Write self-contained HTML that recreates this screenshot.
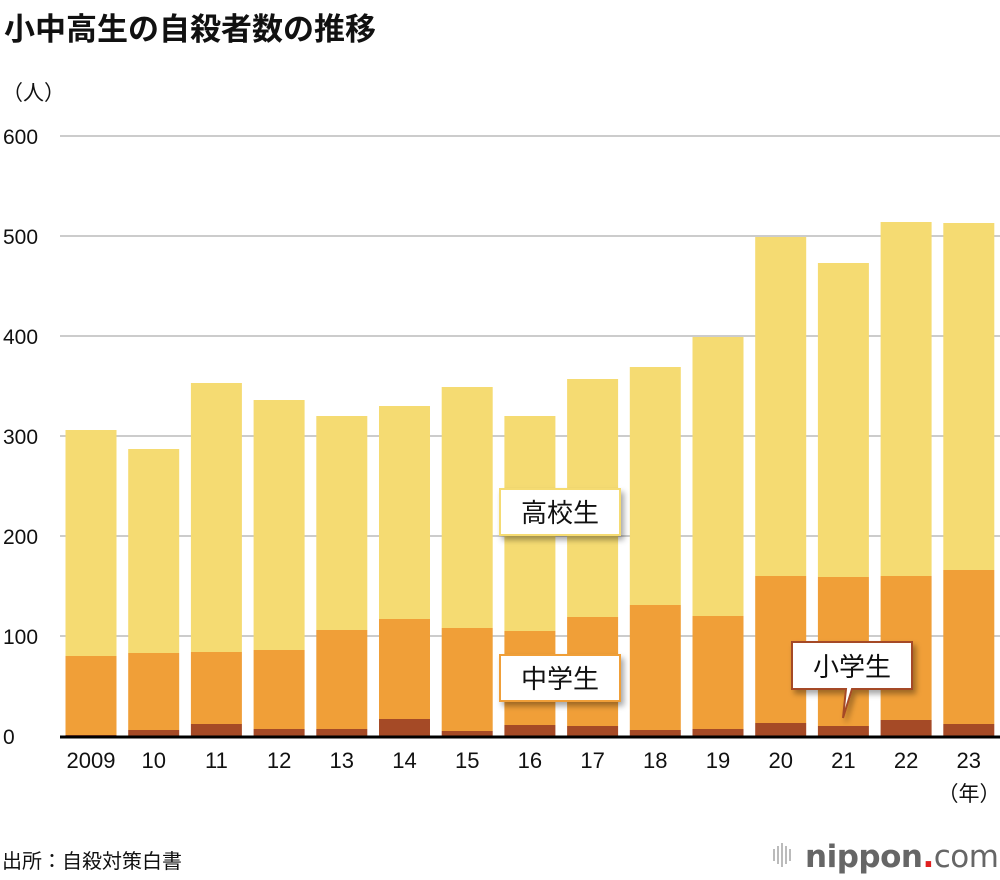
<!DOCTYPE html>
<html><head><meta charset="utf-8"><style>
body{margin:0;background:#fff;width:1000px;height:880px;overflow:hidden;font-family:"Liberation Sans","Noto Sans CJK JP",sans-serif}
svg{position:absolute;left:0;top:0}
</style></head><body>
<svg width="1000" height="880">
<defs><filter id="sh" x="-20%" y="-20%" width="150%" height="160%"><feDropShadow dx="3" dy="4" stdDeviation="3" flood-color="#000" flood-opacity="0.35"/></filter></defs>
<text x="4" y="40" font-size="31" font-weight="bold" fill="#111">小中高生の自殺者数の推移</text>
<text x="2" y="100" font-size="21" fill="#111">（人）</text>
<g id="grid"></g><g id="bars"></g><g id="xt"></g>
<text x="969" y="801" font-size="21" text-anchor="middle" fill="#111">（年）</text>
<g><rect x="500" y="489" width="120" height="46" fill="#fff" stroke="#f5db72" stroke-width="2" filter="url(#sh)"/><text x="560" y="522" font-size="26" text-anchor="middle" fill="#111">高校生</text></g>
<g><rect x="500" y="655" width="120" height="46" fill="#fff" stroke="#f09f38" stroke-width="2" filter="url(#sh)"/><text x="560" y="688" font-size="26" text-anchor="middle" fill="#111">中学生</text></g>
<g filter="url(#sh)"><path d="M792 642 H912 V689 H852 L843 718 L846 689 H792 Z" fill="#fff" stroke="#a54a26" stroke-width="2"/><text x="852" y="676" font-size="26" text-anchor="middle" fill="#111">小学生</text></g>
<text x="2" y="868" font-size="20" fill="#111">出所：自殺対策白書</text>
<g>
<g fill="#bbb"><rect x="773" y="849" width="2" height="12"/><rect x="777" y="846" width="2" height="18"/><rect x="781" y="843" width="2" height="24"/><rect x="785" y="846" width="2" height="18"/><rect x="789" y="849" width="2" height="12"/></g>
<text x="805" y="867" font-size="31" fill="#666" font-family="DejaVu Sans,sans-serif" font-weight="bold" letter-spacing="-0.5">nippon<tspan fill="#e02020">.</tspan><tspan font-weight="normal">com</tspan></text></g>
</svg>
<script>
const years=["2009","10","11","12","13","14","15","16","17","18","19","20","21","22","23"];
const elementary=[1,6,12,7,7,17,5,11,10,6,7,13,10,16,12];
const juniorHigh=[79,77,72,79,99,100,103,94,109,125,113,147,149,144,154];
const highSchool=[226,204,269,250,214,213,241,215,238,238,279,339,314,354,347];
const yTicks=[0,100,200,300,400,500,600];
const ns="http://www.w3.org/2000/svg";
const y=v=>736-v*1.0;
const x=i=>91+i*62.7;
const bw=51;
function mk(t,a,p){const e=document.createElementNS(ns,t);for(const k in a)e.setAttribute(k,a[k]);p.appendChild(e);return e;}
const grid=document.getElementById('grid'),bars=document.getElementById('bars'),xt=document.getElementById('xt');
yTicks.forEach(v=>{
 if(v>0){const l=mk('line',{x1:60,x2:1000,y1:y(v),y2:y(v),stroke:'#ccc','stroke-width':2},grid);
 
 }
 const t=mk('text',{x:3,y:y(v)+8,'font-size':21,fill:'#111'},grid);t.textContent=v;
 
 
});
const cols=['#a54a26','#f09f38','#f5db72'];
years.forEach((yr,i)=>{
 const vals=[elementary[i],juniorHigh[i],highSchool[i]];let base=0;
 vals.forEach((v,k)=>{
  const r=mk('rect',{x:x(i)-bw/2,y:y(base+v),width:bw,height:v*1.0,fill:cols[k]},bars);
  
  
  base+=v;});
 const t=mk('text',{x:x(i),y:768,'font-size':22,'text-anchor':'middle',fill:'#111'},xt);t.textContent=yr;
 
 
});
const ax=mk('line',{x1:60,x2:1000,y1:737,y2:737,stroke:'#000','stroke-width':3},bars);


</script>
</body></html>
